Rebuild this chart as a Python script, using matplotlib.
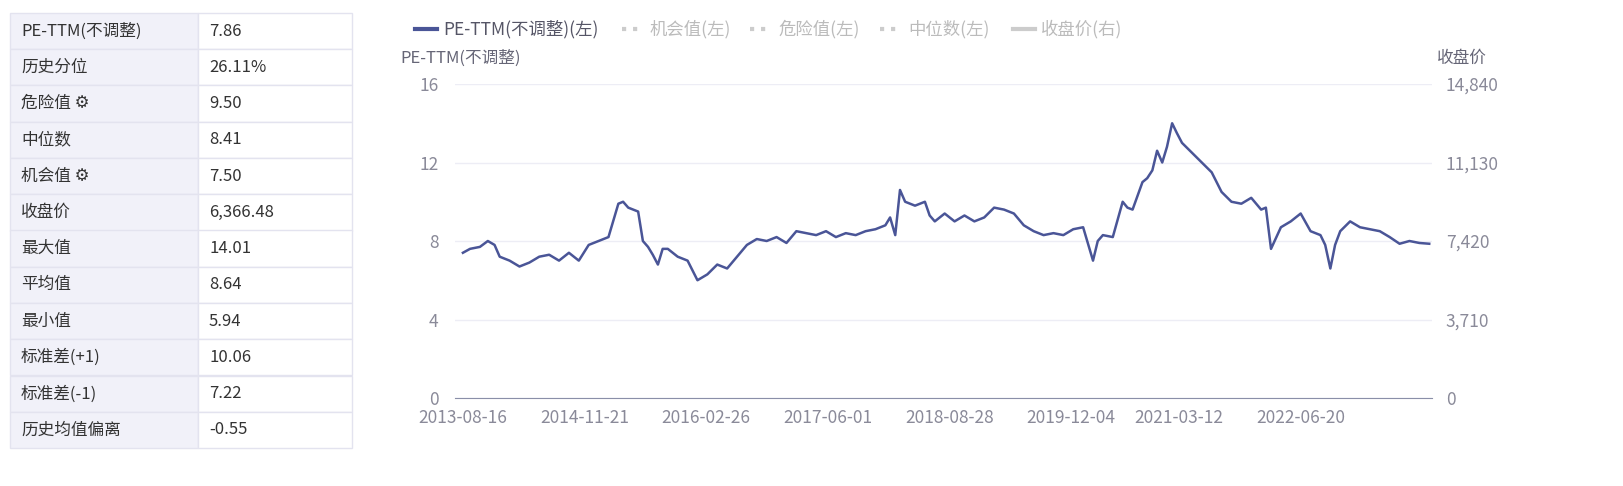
import matplotlib
matplotlib.use("Agg")
import matplotlib.pyplot as plt
from matplotlib.patches import Rectangle
from matplotlib.lines import Line2D

plt.rcParams['font.family'] = ['Noto Sans CJK SC', 'DejaVu Sans']

table_labels = ["PE-TTM(不调整)", "历史分位", "危险值 ⚙", "中位数", "机会值 ⚙", "收盘价",
                "最大值", "平均值", "最小值", "标准差(+1)", "标准差(-1)", "历史均值偏离"]
table_values = ["7.86", "26.11%", "9.50", "8.41", "7.50", "6,366.48",
                "14.01", "8.64", "5.94", "10.06", "7.22", "-0.55"]

# trading-day index and PE-TTM values
pe_idx = [0, 18, 43, 63, 80, 93, 118, 143, 168, 193, 218, 243, 268, 293, 318, 343, 368, 393, 405, 418,
          443, 455, 468, 480, 493, 505, 518, 543, 568, 593, 618, 643, 668, 693, 718, 743, 768, 793, 818,
          843, 868, 893, 918, 943, 968, 993, 1018, 1043, 1068, 1080, 1093, 1105, 1118, 1143, 1168, 1180,
          1193, 1218, 1243, 1268, 1293, 1318, 1343, 1368, 1393, 1418, 1443, 1468, 1493, 1518, 1543, 1568,
          1593, 1605, 1618, 1643, 1668, 1680, 1693, 1718, 1730, 1743, 1755, 1768, 1780, 1793, 1805, 1818,
          1843, 1868, 1893, 1918, 1943, 1968, 1993, 2018, 2030, 2043, 2068, 2093, 2118, 2143, 2168, 2180,
          2193, 2205, 2218, 2243, 2268, 2293, 2318, 2343, 2368, 2393, 2418, 2443]
pe_val = [7.4, 7.6, 7.7, 8.0, 7.8, 7.2, 7.0, 6.7, 6.9, 7.2, 7.3, 7.0, 7.4, 7.0, 7.8, 8.0, 8.2, 9.9, 10.0,
          9.7, 9.5, 8.0, 7.7, 7.3, 6.8, 7.6, 7.6, 7.2, 7.0, 6.0, 6.3, 6.8, 6.6, 7.2, 7.8, 8.1, 8.0, 8.2,
          7.9, 8.5, 8.4, 8.3, 8.5, 8.2, 8.4, 8.3, 8.5, 8.6, 8.8, 9.2, 8.3, 10.6, 10.0, 9.8, 10.0, 9.3,
          9.0, 9.4, 9.0, 9.3, 9.0, 9.2, 9.7, 9.6, 9.4, 8.8, 8.5, 8.3, 8.4, 8.3, 8.6, 8.7, 7.0, 8.0,
          8.3, 8.2, 10.0, 9.7, 9.6, 11.0, 11.2, 11.6, 12.6, 12.0, 12.8, 14.0, 13.5, 13.0, 12.5, 12.0,
          11.5, 10.5, 10.0, 9.9, 10.2, 9.6, 9.7, 7.6, 8.7, 9.0, 9.4, 8.5, 8.3, 7.8, 6.6, 7.8, 8.5,
          9.0, 8.7, 8.6, 8.5, 8.2, 7.86, 8.0, 7.9, 7.86]
pe_idx = pe_idx[:len(pe_val)]
tick_idx = [0, 308, 615, 923, 1230, 1538, 1810, 2118]
tick_labels = ["2013-08-16", "2014-11-21", "2016-02-26", "2017-06-01", "2018-08-28",
               "2019-12-04", "2021-03-12", "2022-06-20"]
left_ticks = [0, 4, 8, 12, 16]
right_ticks = [0, 3710, 7420, 11130, 14840]
right_labels = ["0", "3,710", "7,420", "11,130", "14,840"]

W, H = 1623, 486
fig = plt.figure(figsize=(W/100, H/100), dpi=100)
fig.patch.set_facecolor("white")

def fx(px): return px / W
def fy(py): return 1 - py / H

# table
top, rowh = 13, 36.25
for i, (lab, val) in enumerate(zip(table_labels, table_values)):
    y0 = top + i * rowh
    fig.patches.append(Rectangle((fx(10), fy(y0 + rowh)), fx(188), rowh / H, transform=fig.transFigure,
                                 facecolor="#f1f1f9", edgecolor="#e3e3ef", lw=1))
    fig.patches.append(Rectangle((fx(198), fy(y0 + rowh)), fx(154), rowh / H, transform=fig.transFigure,
                                 facecolor="white", edgecolor="#e3e3ef", lw=1))
    fig.text(fx(21), fy(y0 + rowh / 2), lab, fontsize=12, color="#333333", va="center")
    fig.text(fx(209), fy(y0 + rowh / 2), val, fontsize=12, color="#333333", va="center")

ax = fig.add_axes([fx(455), fy(398), fx(1432 - 455), (398 - 84) / H])
ax.plot(pe_idx, pe_val, color="#4a5597", lw=1.8)
ax.set_ylim(0, 16)
ax.set_xlim(-20, 2450)
ax.set_yticks(left_ticks)
ax.set_xticks(tick_idx)
ax.set_xticklabels(tick_labels)
for s in ax.spines.values():
    s.set_visible(False)
ax.spines['bottom'].set_visible(True)
ax.spines['bottom'].set_color("#8a8fa8")
ax.grid(axis="y", color="#ededf5", lw=1)
ax.tick_params(axis="y", length=0, labelsize=12.5, labelcolor="#8a8a99", pad=12)
ax.tick_params(axis="x", length=0, labelsize=12.5, labelcolor="#8a8a99", pad=8)
ax2 = ax.twinx()
ax2.set_ylim(0, 14840)
ax2.set_yticks(right_ticks)
ax2.set_yticklabels(right_labels)
for s in ax2.spines.values():
    s.set_visible(False)
ax2.tick_params(axis="y", length=0, labelsize=12.5, labelcolor="#8a8a99", pad=10)

fig.text(fx(400), fy(58), "PE-TTM(不调整)", fontsize=12, color="#666677", va="center")
fig.text(fx(1437), fy(58), "收盘价", fontsize=12, color="#666677", va="center")

# legend
items = [(415, "PE-TTM(不调整)(左)", "-", "#4a5597", "#555566"),
         (622, "机会值(左)", ":", "#cccccc", "#bbbbbb"),
         (750, "危险值(左)", ":", "#cccccc", "#bbbbbb"),
         (880, "中位数(左)", ":", "#cccccc", "#bbbbbb"),
         (1013, "收盘价(右)", "-", "#cccccc", "#bbbbbb")]
for x0, txt, ls, lc, tc in items:
    fig.lines.append(Line2D([fx(x0), fx(x0 + 22)], [fy(29), fy(29)], transform=fig.transFigure,
                            color=lc, lw=3, ls=ls))
    fig.text(fx(x0 + 28), fy(29), txt, fontsize=12.5, color=tc, va="center")

fig.savefig("out.png", dpi=100)
